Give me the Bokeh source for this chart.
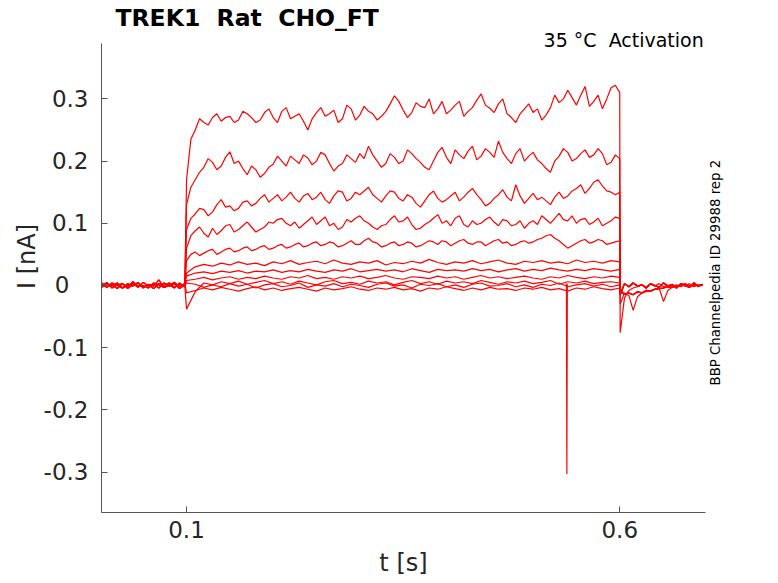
import numpy as np
from bokeh.plotting import figure
from bokeh.models import Range1d, FixedTicker, CustomJSTickFormatter, Label, LinearAxis
from bokeh.embed import file_html
from bokeh.resources import INLINE

# sample times (s)
t_pre = 0.002 + 0.006 * np.arange(17)
t_fine = 0.1 + 0.005 * np.arange(101)    # big sweeps
t_coarse = 0.1 + 0.01 * np.arange(51)    # small sweeps
t_post = 0.6005 + 0.005 * np.arange(20)

# baseline before the step (nA)
pre_a = [0.002, -0.003, 0.004, 0.000, -0.004, 0.003, -0.001, 0.005, -0.003,
         0.001, -0.005, 0.003, 0.000, 0.004, -0.003, 0.002, -0.001]
pre_b = [-0.003, 0.003, -0.001, 0.004, -0.004, 0.000, 0.003, -0.003, 0.005,
         -0.001, 0.002, -0.004, 0.004, -0.001, 0.003, -0.005, 0.001]
pre_c = [0.004, -0.002, 0.001, -0.005, 0.003, -0.003, 0.006, -0.001, 0.000,
         -0.004, 0.004, 0.001, -0.003, 0.000, 0.005, -0.002, 0.003]
pre_d = [-0.001, 0.005, -0.004, 0.001, 0.003, -0.005, 0.001, 0.004, -0.004,
         0.002, -0.001, 0.009, -0.003, 0.001, -0.004, 0.004, -0.002]

# tail after the step (nA)
post_a = [-0.076, -0.020, -0.008, -0.004, -0.002, 0.001, -0.003, 0.002, -0.001, 0.003,
          -0.002, 0.000, 0.002, -0.003, 0.001, -0.001, 0.003, -0.002, 0.001, 0.000]
post_b = [-0.030, -0.012, -0.016, -0.040, -0.018, -0.012, -0.010, -0.008, -0.006, -0.004,
          -0.026, -0.008, -0.003, 0.001, -0.002, 0.002, -0.001, 0.003, -0.002, 0.001]
post_c = [-0.015, 0.003, -0.002, 0.004, -0.001, 0.001, -0.004, 0.003, 0.000, -0.003,
          0.004, -0.001, 0.001, -0.004, 0.003, 0.000, -0.003, 0.004, -0.001, 0.002]
post_d = [-0.008, -0.014, -0.012, -0.015, -0.010, -0.012, -0.008, -0.009, -0.006, -0.005,
          -0.004, -0.002, -0.003, 0.000, -0.001, 0.003, -0.002, 0.001, 0.000, 0.001]

# current during the step, one list per sweep (nA)
step_1 = [0.170, 0.235, 0.250, 0.268, 0.262, 0.258, 0.270, 0.276, 0.264, 0.270,
          0.272, 0.262, 0.266, 0.280, 0.276, 0.270, 0.262, 0.266, 0.278, 0.284,
          0.270, 0.262, 0.280, 0.286, 0.268, 0.272, 0.276, 0.264, 0.250, 0.268,
          0.278, 0.286, 0.272, 0.276, 0.282, 0.262, 0.268, 0.290, 0.284, 0.266,
          0.274, 0.288, 0.280, 0.276, 0.266, 0.272, 0.280, 0.292, 0.305, 0.296,
          0.282, 0.270, 0.278, 0.294, 0.288, 0.286, 0.300, 0.276, 0.284, 0.296,
          0.276, 0.282, 0.290, 0.296, 0.272, 0.280, 0.286, 0.298, 0.308, 0.290,
          0.285, 0.278, 0.292, 0.300, 0.276, 0.270, 0.262, 0.276, 0.284, 0.292,
          0.278, 0.284, 0.266, 0.274, 0.286, 0.306, 0.294, 0.300, 0.314, 0.302,
          0.290, 0.306, 0.320, 0.288, 0.296, 0.306, 0.284, 0.300, 0.318, 0.322,
          0.310]
step_2 = [0.130, 0.158, 0.170, 0.182, 0.190, 0.204, 0.198, 0.186, 0.192, 0.206,
          0.215, 0.196, 0.200, 0.188, 0.178, 0.192, 0.186, 0.174, 0.180, 0.190,
          0.195, 0.208, 0.200, 0.192, 0.208, 0.202, 0.196, 0.210, 0.205, 0.194,
          0.200, 0.214, 0.210, 0.196, 0.184, 0.192, 0.196, 0.210, 0.204, 0.198,
          0.212, 0.204, 0.224, 0.210, 0.200, 0.190, 0.196, 0.212, 0.206, 0.196,
          0.200, 0.218, 0.212, 0.204, 0.198, 0.190, 0.186, 0.200, 0.214, 0.222,
          0.206, 0.196, 0.218, 0.210, 0.204, 0.216, 0.224, 0.202, 0.208, 0.220,
          0.214, 0.206, 0.232, 0.214, 0.204, 0.196, 0.212, 0.220, 0.200, 0.208,
          0.214, 0.202, 0.196, 0.188, 0.182, 0.200, 0.208, 0.220, 0.214, 0.200,
          0.204, 0.212, 0.218, 0.206, 0.210, 0.220, 0.212, 0.194, 0.198, 0.210,
          0.204]
step_3 = [0.090, 0.108, 0.115, 0.124, 0.122, 0.112, 0.118, 0.130, 0.138, 0.126,
          0.128, 0.120, 0.124, 0.134, 0.136, 0.128, 0.132, 0.140, 0.146, 0.134,
          0.140, 0.146, 0.136, 0.142, 0.150, 0.140, 0.134, 0.144, 0.148, 0.138,
          0.142, 0.150, 0.138, 0.132, 0.144, 0.152, 0.150, 0.136, 0.140, 0.150,
          0.146, 0.152, 0.158, 0.146, 0.140, 0.134, 0.144, 0.152, 0.150, 0.140,
          0.136, 0.146, 0.142, 0.132, 0.126, 0.136, 0.146, 0.152, 0.140, 0.134,
          0.138, 0.144, 0.150, 0.136, 0.142, 0.150, 0.156, 0.146, 0.138, 0.128,
          0.132, 0.140, 0.146, 0.154, 0.142, 0.136, 0.162, 0.144, 0.132, 0.140,
          0.148, 0.138, 0.142, 0.136, 0.130, 0.142, 0.150, 0.140, 0.144, 0.152,
          0.156, 0.162, 0.148, 0.156, 0.166, 0.170, 0.160, 0.152, 0.150, 0.146,
          0.150]
step_4 = [0.060, 0.080, 0.088, 0.094, 0.084, 0.078, 0.092, 0.082, 0.088, 0.096,
          0.098, 0.086, 0.090, 0.096, 0.102, 0.094, 0.086, 0.090, 0.094, 0.102,
          0.100, 0.106, 0.108, 0.100, 0.096, 0.102, 0.092, 0.098, 0.104, 0.110,
          0.098, 0.104, 0.110, 0.096, 0.100, 0.090, 0.094, 0.106, 0.102, 0.108,
          0.112, 0.104, 0.100, 0.094, 0.090, 0.096, 0.098, 0.106, 0.112, 0.102,
          0.104, 0.110, 0.098, 0.090, 0.092, 0.098, 0.102, 0.108, 0.114, 0.100,
          0.104, 0.096, 0.108, 0.112, 0.098, 0.094, 0.104, 0.098, 0.100, 0.106,
          0.110, 0.102, 0.096, 0.106, 0.104, 0.096, 0.098, 0.104, 0.092, 0.100,
          0.104, 0.098, 0.112, 0.106, 0.100, 0.108, 0.116, 0.106, 0.104, 0.112,
          0.100, 0.106, 0.108, 0.098, 0.102, 0.108, 0.096, 0.100, 0.104, 0.110,
          0.108]
step_5 = [0.040, 0.050, 0.054, 0.048, 0.052, 0.056, 0.058, 0.050, 0.054, 0.058,
          0.060, 0.054, 0.056, 0.060, 0.062, 0.056, 0.058, 0.062, 0.064, 0.058,
          0.060, 0.064, 0.066, 0.060, 0.062, 0.066, 0.068, 0.062, 0.064, 0.068,
          0.070, 0.064, 0.066, 0.070, 0.068, 0.062, 0.064, 0.068, 0.072, 0.066,
          0.066, 0.072, 0.076, 0.070, 0.068, 0.062, 0.064, 0.068, 0.070, 0.064,
          0.066, 0.070, 0.068, 0.062, 0.064, 0.068, 0.072, 0.070, 0.066, 0.072,
          0.070, 0.064, 0.068, 0.072, 0.074, 0.068, 0.066, 0.070, 0.070, 0.064,
          0.068, 0.072, 0.074, 0.068, 0.070, 0.064, 0.066, 0.070, 0.072, 0.068,
          0.070, 0.074, 0.076, 0.080, 0.082, 0.076, 0.072, 0.066, 0.060, 0.064,
          0.068, 0.072, 0.074, 0.068, 0.070, 0.074, 0.072, 0.066, 0.068, 0.070,
          0.072]
step_6 = [0.020,
          0.030, 0.034, 0.031, 0.036, 0.033, 0.038, 0.034, 0.036, 0.032, 0.038,
          0.035, 0.040, 0.034, 0.037, 0.039, 0.035, 0.041, 0.036, 0.034, 0.038,
          0.036, 0.040, 0.033, 0.037, 0.035, 0.039, 0.036, 0.042, 0.037, 0.034,
          0.038, 0.036, 0.040, 0.035, 0.038, 0.041, 0.036, 0.034, 0.039, 0.037,
          0.040, 0.036, 0.038, 0.035, 0.041, 0.037, 0.039, 0.036, 0.040, 0.038]
step_7 = [0.015,
          0.020, 0.022, 0.019, 0.023, 0.021, 0.024, 0.020, 0.023, 0.022, 0.025,
          0.021, 0.024, 0.022, 0.026, 0.023, 0.021, 0.025, 0.023, 0.027, 0.022,
          0.024, 0.026, 0.023, 0.025, 0.022, 0.027, 0.024, 0.021, 0.026, 0.024,
          0.025, 0.023, 0.027, 0.024, 0.026, 0.022, 0.025, 0.027, 0.023, 0.026,
          0.024, 0.028, 0.025, 0.023, 0.026, 0.024, 0.027, 0.025, 0.023, 0.026]
step_8 = [0.008,
          0.010, 0.013, 0.009, 0.012, 0.014, 0.010, 0.013, 0.011, 0.015, 0.012,
          0.010, 0.014, 0.012, 0.016, 0.011, 0.013, 0.010, 0.014, 0.012, 0.015,
          0.011, 0.013, 0.016, 0.012, 0.010, 0.014, 0.013, 0.011, 0.015, 0.012,
          0.014, 0.010, 0.013, 0.016, 0.012, 0.014, 0.011, 0.013, 0.015, 0.012,
          0.010, 0.014, 0.012, 0.016, 0.013, 0.011, 0.014, 0.012, 0.015, 0.013]
step_9 = [-0.038,
          -0.010, 0.004, 0.001, 0.006, 0.003, 0.007, 0.002, 0.005, 0.008, 0.003,
          0.006, 0.002, 0.007, 0.004, 0.001, 0.006, 0.008, 0.003, 0.005, 0.002,
          0.007, 0.004, 0.006, 0.001, 0.005, 0.008, 0.003, 0.006, 0.002, 0.007,
          0.004, 0.006, 0.003, 0.008, 0.005, 0.002, 0.006, 0.004, 0.007, 0.003,
          0.005, 0.008, 0.002, 0.006, 0.004, 0.007, 0.003, 0.005, 0.006, 0.004]
step_10 = [0.004,
           0.002, -0.003, 0.001, -0.002, 0.003, -0.001, 0.002, -0.004, 0.001, 0.003,
           -0.002, 0.000, 0.004, -0.003, 0.001, -0.001, 0.003, -0.002, 0.002, 0.000,
           -0.003, 0.002, 0.004, -0.001, 0.001, -0.004, 0.002, 0.000, 0.003, -0.002,
           0.001, -0.003, 0.002, 0.004, -0.001, 0.000, 0.003, -0.002, 0.001, -0.003,
           0.002, 0.000, 0.004, -0.002, 0.001, 0.003, -0.001, 0.002, -0.002, 0.001]
step_11 = [-0.012,
           -0.008, -0.004, -0.007, -0.003, -0.006, -0.009, -0.005, -0.002, -0.007, -0.004,
           -0.008, -0.005, -0.003, -0.006, -0.009, -0.004, -0.007, -0.005, -0.002, -0.006,
           -0.008, -0.004, -0.006, -0.003, -0.007, -0.005, -0.009, -0.004, -0.006, -0.002,
           -0.005, -0.008, -0.004, -0.007, -0.003, -0.006, -0.005, -0.008, -0.004, -0.006,
           -0.003, -0.007, -0.005, -0.009, -0.004, -0.006, -0.002, -0.005, -0.007, -0.004]

# brief artefact in one sweep
glitch_t = [0.5385, 0.5390, 0.5395]
glitch_i = [0.003, -0.303, 0.002]

sweeps = [
    (pre_a, t_fine, step_1, post_a), (pre_b, t_fine, step_2, post_c),
    (pre_c, t_fine, step_3, post_d), (pre_d, t_fine, step_4, post_c),
    (pre_a, t_fine, step_5, post_b), (pre_b, t_coarse, step_6, post_d),
    (pre_c, t_coarse, step_7, post_c), (pre_d, t_coarse, step_8, post_d),
    (pre_a, t_coarse, step_9, post_c), (pre_b, t_coarse, step_10, post_d),
    (pre_c, t_coarse, step_11, post_c),
]

FONT = "DejaVu Sans"
AX = "#555555"
TXT = "#262626"

# the frame runs up to the top edge so the title texts can sit in it;
# the y axis line is cut back with bounds
Y0, Y1 = -0.365, 0.389
p = figure(frame_width=604, frame_height=512, output_backend="svg",
           toolbar_location=None,
           x_range=Range1d(0.00185, 0.699), y_range=Range1d(Y0, 0.4582),
           min_border_left=101, min_border_right=73, min_border_top=0,
           min_border_bottom=0)
p.outline_line_color = None
p.xgrid.visible = False
p.ygrid.visible = False
p.background_fill_color = "white"

for pre, t_step, step, post in sweeps:
    p.line(np.concatenate([t_pre, t_step, t_post]), pre + step + post,
           line_color="#ff0000", line_width=1.2)
p.line(glitch_t, glitch_i, line_color="#ff0000", line_width=1.2)

fmt = CustomJSTickFormatter(code="return tick == 0 ? '0\u2007\u2009' : tick.toFixed(1);")
p.xaxis.ticker = FixedTicker(ticks=[0.1, 0.6])
p.yaxis.ticker = FixedTicker(ticks=[-0.3, -0.2, -0.1, 0, 0.1, 0.2, 0.3])
p.yaxis.bounds = (Y0, Y1)
for ax in (p.xaxis, p.yaxis):
    ax.formatter = fmt
    ax.axis_line_color = AX
    ax.major_tick_line_color = AX
    ax.minor_tick_line_color = None
    ax.major_tick_in = 6
    ax.major_tick_out = 0
    ax.major_label_text_font = FONT
    ax.major_label_text_font_size = "23px"
    ax.major_label_text_color = TXT
    ax.axis_label_text_font = FONT
    ax.axis_label_text_font_size = "24px"
    ax.axis_label_text_font_style = "normal"
    ax.axis_label_text_color = TXT
p.xaxis.axis_label = "t [s]"
p.yaxis.axis_label = "I [nA]"
p.xaxis.major_label_standoff = 8
p.xaxis.axis_label_standoff = 8
p.yaxis.major_label_standoff = 13
p.yaxis.axis_label_standoff = 0

# vertical side note, drawn as the single label of a bare right axis;
# the label starts at its tick and reads upwards
side = LinearAxis(ticker=FixedTicker(ticks=[-0.1608]),
                  formatter=CustomJSTickFormatter(code="return 'BBP Channelpedia ID 29988 rep 2';"),
                  axis_line_color=None, major_tick_line_color=None,
                  minor_tick_line_color=None, major_tick_in=0, major_tick_out=0,
                  major_label_text_font=FONT, major_label_text_font_size="13.3px",
                  major_label_text_color="black", major_label_standoff=10,
                  major_label_orientation=np.pi / 2)
p.add_layout(side, "right")

p.add_layout(Label(x=0.018, y=0.4293, text="TREK1\u00a0 Rat\u00a0 CHO_FT",
                   text_font=FONT, text_font_size="23.5px", text_font_style="bold",
                   text_color="black", text_baseline="alphabetic"))
p.add_layout(Label(x=0.697, y=0.394, text="35 °C\u00a0 Activation", text_font=FONT,
                   text_font_size="19px", text_color="black", text_align="right",
                   text_baseline="alphabetic"))

open("out.html", "w").write(file_html(p, INLINE))
